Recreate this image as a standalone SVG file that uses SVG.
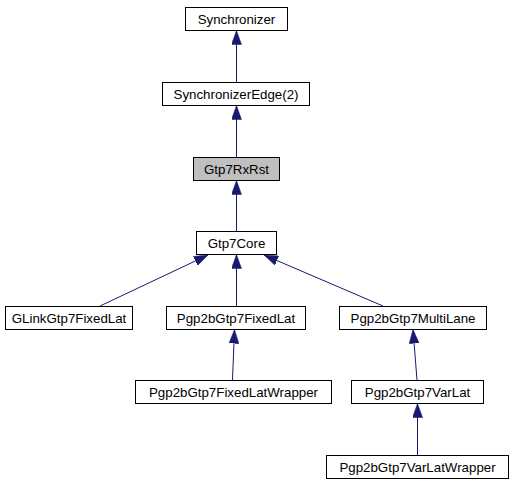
<svg xmlns="http://www.w3.org/2000/svg" width="513" height="485" viewBox="0 0 513 485">
<style>
.box{fill:#ffffff;stroke:#000000;stroke-width:1}
.cur{fill:#bfbfbf;stroke:#000000;stroke-width:1}
.lbl{font-family:"Liberation Sans",Arial,Helvetica,sans-serif;font-size:13.3px;fill:#000000;text-anchor:middle}
.edge{stroke:#191970;stroke-width:1;fill:none;marker-end:url(#arr)}
</style>
<defs>
<marker id="arr" viewBox="0 0 14 10" refX="14" refY="5" markerWidth="14" markerHeight="10" markerUnits="userSpaceOnUse" orient="auto">
<path d="M0,0 L14,5 L0,10 Z" fill="#191970" stroke="#191970" stroke-width="0.5"/>
</marker>
</defs>
<rect width="513" height="485" fill="#ffffff"/>
<g id="connectors">
<path class="edge" d="M236.5,82 L236.5,30.5"/>
<path class="edge" d="M236.5,157 L236.5,105.5"/>
<path class="edge" d="M236.5,231 L236.5,180.5"/>
<path class="edge" d="M100,306 L208,255"/>
<path class="edge" d="M236.5,306 L236.5,254.5"/>
<path class="edge" d="M383,306 L264,255"/>
<path class="edge" d="M232.5,380 L234.5,329.5"/>
<path class="edge" d="M417,380 L413,329.5"/>
<path class="edge" d="M417.5,455 L417.5,403.5"/>
</g>
<g id="Synchronizer">
<rect class="box" x="185.5" y="7.5" width="102" height="23"/>
<text class="lbl" x="236.5" y="23.5">Synchronizer</text>
</g>
<g id="SynchronizerEdge2">
<rect class="box" x="162.5" y="82.5" width="147" height="23"/>
<text class="lbl" x="236" y="98.5">SynchronizerEdge(2)</text>
</g>
<g id="Gtp7RxRst">
<rect class="cur" x="193.5" y="157.5" width="86" height="23"/>
<text class="lbl" x="236.5" y="173.5">Gtp7RxRst</text>
</g>
<g id="Gtp7Core">
<rect class="box" x="196.5" y="231.5" width="80" height="23"/>
<text class="lbl" x="236.5" y="247.5">Gtp7Core</text>
</g>
<g id="GLinkGtp7FixedLat">
<rect class="box" x="5.5" y="306.5" width="127" height="23"/>
<text class="lbl" x="69" y="322.5">GLinkGtp7FixedLat</text>
</g>
<g id="Pgp2bGtp7FixedLat">
<rect class="box" x="166.5" y="306.5" width="139" height="23"/>
<text class="lbl" x="236" y="322.5">Pgp2bGtp7FixedLat</text>
</g>
<g id="Pgp2bGtp7MultiLane">
<rect class="box" x="339.5" y="306.5" width="147" height="23"/>
<text class="lbl" x="413" y="322.5">Pgp2bGtp7MultiLane</text>
</g>
<g id="Pgp2bGtp7FixedLatWrapper">
<rect class="box" x="135.5" y="380.5" width="196" height="23"/>
<text class="lbl" x="233.5" y="396.5">Pgp2bGtp7FixedLatWrapper</text>
</g>
<g id="Pgp2bGtp7VarLat">
<rect class="box" x="351.5" y="380.5" width="132" height="23"/>
<text class="lbl" x="417.5" y="396.5">Pgp2bGtp7VarLat</text>
</g>
<g id="Pgp2bGtp7VarLatWrapper">
<rect class="box" x="326.5" y="455.5" width="182" height="23"/>
<text class="lbl" x="417.5" y="471.5">Pgp2bGtp7VarLatWrapper</text>
</g>
</svg>
